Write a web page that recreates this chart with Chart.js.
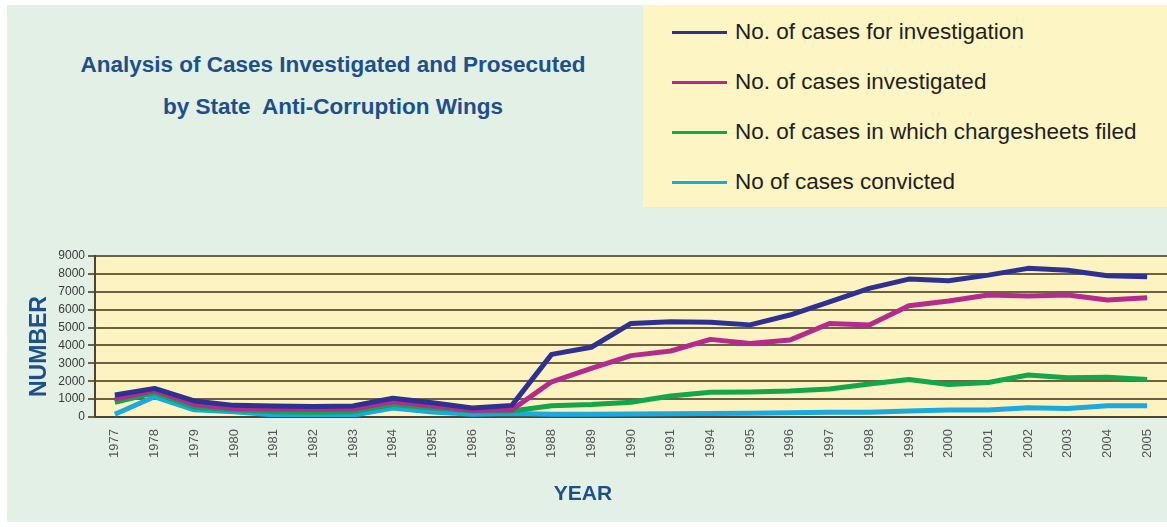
<!DOCTYPE html>
<html>
<head>
<meta charset="utf-8">
<script src="https://cdn.jsdelivr.net/npm/chart.js@4.4.1/dist/chart.umd.min.js"></script>
<style>
  html, body { margin: 0; padding: 0; background: #ffffff; }
  body { width: 1167px; height: 527px; position: relative; overflow: hidden; font-family: "Liberation Sans", Arial, sans-serif; }
  #panel { position: absolute; left: 7px; top: 5px; right: 0; bottom: 5px; background: #e2f0e6; }
  .title { position: absolute; left: 0; width: 666px; text-align: center; color: #1d4f8a; font-weight: bold; font-size: 22.5px; line-height: 26px; }
  .axis { position: absolute; color: #1d4f8a; font-weight: bold; line-height: 26px; }
  #legend { position: absolute; left: 643px; top: 5px; width: 524px; height: 202px; background: #fdf5c4; }
  .item { position: absolute; left: 29px; height: 30px; display: flex; align-items: center; font-size: 22.5px; color: #231f20; white-space: nowrap; }
  .swatch { width: 55px; height: 3px; margin-right: 8px; }
  #chart { position: absolute; left: 0; top: 0; }
</style>
</head>
<body>
<div id="panel"></div>
<div class="title" style="top:52px">Analysis of Cases Investigated and Prosecuted</div>
<div class="title" style="top:94px">by State&nbsp; Anti-Corruption Wings</div>
<div id="legend"></div>
<canvas id="chart" width="1167" height="527"></canvas>
<div class="axis" style="left:-12px; top:334px; width:100px; text-align:center; font-size:23px; transform:rotate(-90deg);">NUMBER</div>
<div class="axis" style="left:483px; top:480px; width:200px; text-align:center; font-size:21px;">YEAR</div>
<script>
// years on the x axis (1992 and 1993 are missing in the source)
const years = ['1977', '1978', '1979', '1980', '1981', '1982', '1983', '1984', '1985', '1986', '1987', '1988', '1989', '1990',
  '1991', '1994', '1995', '1996', '1997', '1998', '1999', '2000', '2001', '2002', '2003', '2004', '2005'];

const forInvestigation = [1230, 1600, 900, 650, 620, 580, 620, 1050, 800, 500, 650, 3500, 3900, 5230,
  5320, 5300, 5150, 5700, 6440, 7190, 7710, 7620, 7930, 8310, 8200, 7900, 7840];
const investigated = [1000, 1480, 700, 480, 450, 430, 450, 850, 620, 380, 400, 1970, 2720, 3430,
  3690, 4340, 4110, 4300, 5230, 5140, 6220, 6480, 6820, 6760, 6820, 6540, 6670];
const chargesheets = [820, 1350, 550, 400, 300, 260, 300, 700, 500, 330, 340, 630, 700, 820,
  1170, 1380, 1400, 1450, 1560, 1840, 2100, 1820, 1930, 2350, 2200, 2220, 2100];
const convicted = [150, 1130, 400, 300, 120, 60, 100, 500, 280, 150, 200, 150, 160, 170,
  180, 200, 210, 240, 260, 260, 330, 390, 390, 520, 480, 630, 630];

const yTicks = [0, 1000, 2000, 3000, 4000, 5000, 6000, 7000, 8000, 9000];

const series = [
  { label: 'No. of cases for investigation', data: forInvestigation, color: '#2e3192' },
  { label: 'No. of cases investigated', data: investigated, color: '#b52a8e' },
  { label: 'No. of cases in which chargesheets filed', data: chargesheets, color: '#13a74b' },
  { label: 'No of cases convicted', data: convicted, color: '#1ba9e1' }
];

// legend as html, built from the series
const legend = document.getElementById('legend');
series.forEach((s, i) => {
  const row = document.createElement('div');
  row.className = 'item';
  row.style.top = (12 + i * 50) + 'px';
  row.innerHTML = '<span class="swatch" style="background:' + s.color + '"></span>' + s.label;
  legend.appendChild(row);
});

const plotBg = {
  id: 'plotBg',
  beforeDraw(chart) {
    const { ctx, chartArea } = chart;
    ctx.save();
    ctx.fillStyle = '#fdf3c0';
    ctx.fillRect(chartArea.left, chartArea.top, chartArea.right - chartArea.left, chartArea.bottom - chartArea.top);
    ctx.restore();
  }
};

new Chart(document.getElementById('chart'), {
  type: 'line',
  data: {
    labels: years,
    datasets: series.map(s => ({
      label: s.label,
      data: s.data,
      borderColor: s.color,
      backgroundColor: s.color,
      borderWidth: 5,
      borderJoinStyle: 'round',
      pointRadius: 0,
      tension: 0
    }))
  },
  options: {
    responsive: false,
    animation: false,
    layout: { padding: { top: 256, left: 0, right: 0, bottom: 0 } },
    plugins: { legend: { display: false }, tooltip: { enabled: false } },
    scales: {
      x: {
        offset: true,
        grid: { display: false },
        border: { display: true, color: '#4a4530', width: 2 },
        ticks: { color: '#555', font: { family: 'Liberation Sans', size: 13 }, minRotation: 90, maxRotation: 90, autoSkip: false, padding: 4 },
        afterFit(scale) { scale.height = 110; scale.paddingLeft = 0; scale.paddingRight = 0; }
      },
      y: {
        min: 0,
        max: 9000,
        afterBuildTicks(scale) { scale.ticks = yTicks.map(v => ({ value: v })); },
        grid: { color: '#6b6143', lineWidth: 2, tickLength: 7 },
        border: { color: '#4a4530', width: 2 },
        ticks: { color: '#3a3a3a', font: { family: 'Liberation Sans', size: 12 }, padding: 3, callback: v => String(v) },
        afterFit(scale) { scale.width = 95; }
      }
    }
  },
  plugins: [plotBg]
});
</script>
</body>
</html>
